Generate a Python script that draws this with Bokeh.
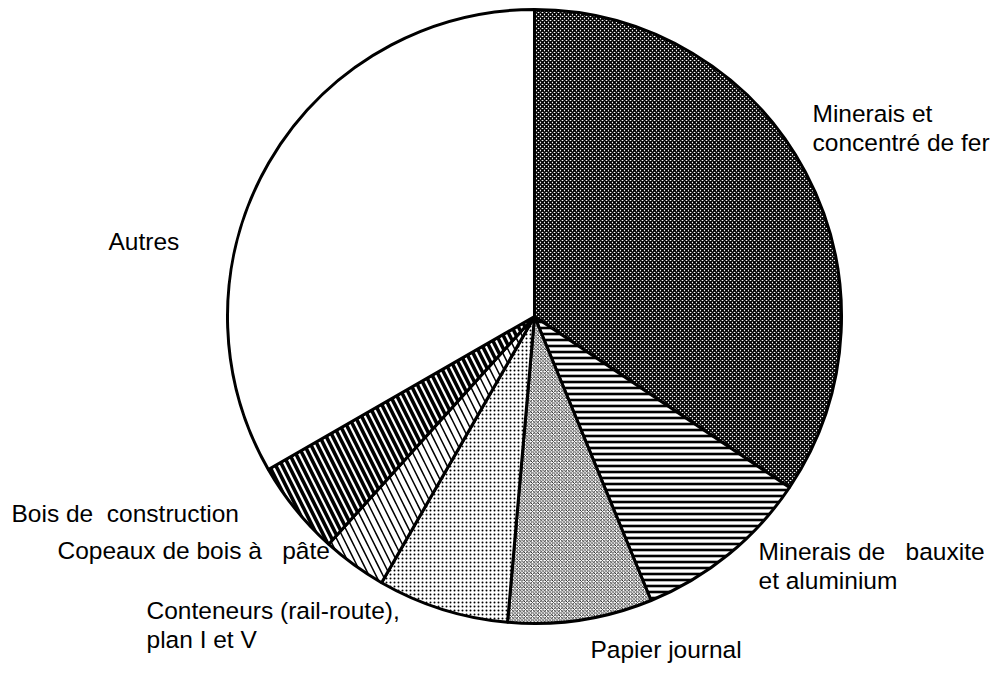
import math
from bokeh.plotting import figure
from bokeh.models import Range1d
from bokeh.embed import file_html
from bokeh.resources import INLINE
from bokeh.core.properties import value

# ---- data ----
categories = [
    "Minerais et concentré de fer",
    "Minerais de bauxite et aluminium",
    "Papier journal",
    "Conteneurs (rail-route), plan I et V",
    "Copeaux de bois à pâte",
    "Bois de construction",
    "Autres",
]
shares = [34.4, 9.4, 7.6, 6.9, 3.4, 5.0, 33.3]

label_lines = [
    ["Minerais et", "concentré de fer"],
    ["Minerais de\u00a0\u00a0\u00a0bauxite", "et aluminium"],
    ["Papier journal"],
    ["Conteneurs (rail-route),", "plan I et V"],
    ["Copeaux de bois à\u00a0\u00a0\u00a0pâte"],
    ["Bois de\u00a0\u00a0construction"],
    ["Autres"],
]

# ---- styles / layout ----
styles = [
    dict(fill_color="white", hatch_pattern="x", hatch_scale=4, hatch_weight=1.6),
    dict(fill_color="white", hatch_pattern="-", hatch_scale=6, hatch_weight=2.6),
    dict(fill_color="white", hatch_pattern="x", hatch_scale=3.5, hatch_weight=0.8),
    dict(fill_color="white", hatch_pattern=".", hatch_scale=4, hatch_weight=1.6),
    dict(fill_color="white", hatch_pattern="\\", hatch_scale=14, hatch_weight=1.5),
    dict(fill_color="white", hatch_pattern="\\", hatch_scale=13, hatch_weight=3.6),
    dict(fill_color="white", hatch_pattern=" ", hatch_scale=12, hatch_weight=1),
]
# label anchor (screen px, left edge, first-line centre) and line spacing
label_pos = [(812, 113), (758, 551), (590, 649), (146, 610), (57, 550), (11, 513), (108, 241)]
line_gap = 29

W, H = 996, 694
def X(sx):
    return sx
def Y(sy):
    return H - sy

cx, cy, r = X(534), Y(316), 307

p = figure(width=W, height=H, x_range=Range1d(0, W), y_range=Range1d(0, H),
           output_backend="svg", toolbar_location=None, min_border=0)
p.axis.visible = False
p.grid.visible = False
p.outline_line_color = None
p.background_fill_color = "white"

total = sum(shares)
cum = 0.0
for share, st in zip(shares, styles):
    a0 = math.pi / 2 - 2 * math.pi * cum / total
    cum += share
    a1 = math.pi / 2 - 2 * math.pi * cum / total
    p.wedge(x=cx, y=cy, radius=r, start_angle=a0, end_angle=a1, direction="clock",
            line_color="black", line_width=3, hatch_color="black", **st)

for lines, (lx, ly) in zip(label_lines, label_pos):
    xs = [X(lx)] * len(lines)
    ys = [Y(ly + i * line_gap) for i in range(len(lines))]
    p.text(x=xs, y=ys, text=lines, text_font=value("Liberation Sans"),
           text_font_size="24.5px", text_baseline="middle", text_align="left",
           text_color="black")

open("out.html", "w").write(file_html(p, INLINE))
